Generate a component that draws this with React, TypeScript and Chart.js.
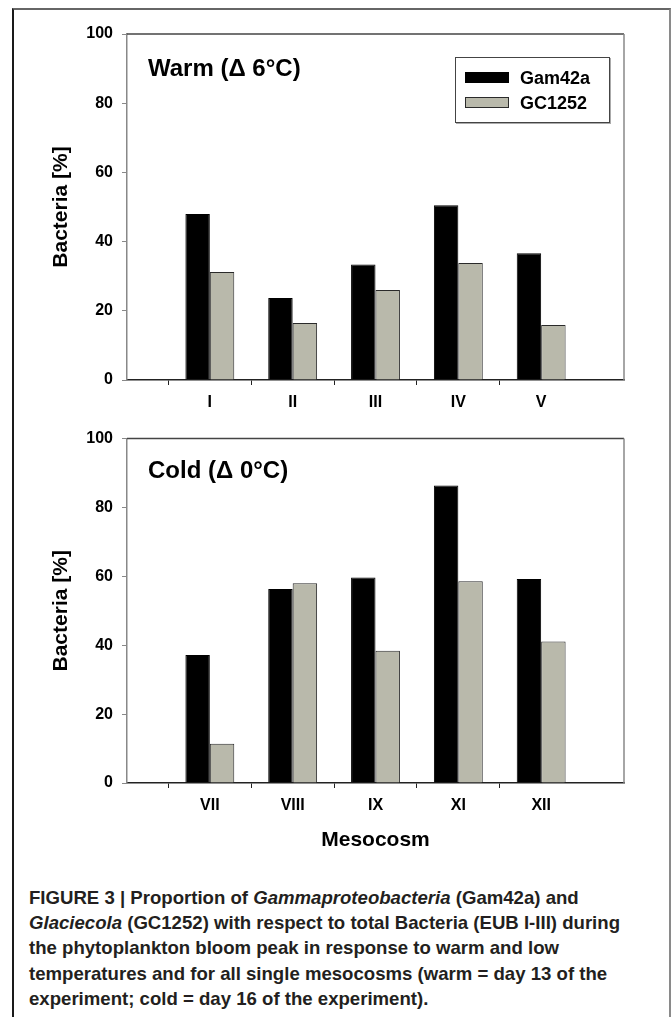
import React, { useEffect, useRef } from "react";
import { Chart, registerables } from "chart.js";

Chart.register(...registerables);

// ---- data ----
const warmLabels = ["I", "II", "III", "IV", "V"];
const warmGam42a = [48.0, 23.7, 33.4, 50.5, 36.6];
const warmGC1252 = [31.2, 16.5, 26.0, 33.8, 15.9];

const coldLabels = ["VII", "VIII", "IX", "XI", "XII"];
const coldGam42a = [37.2, 56.3, 59.7, 86.4, 59.2];
const coldGC1252 = [11.4, 58.0, 38.4, 58.6, 41.1];

const yTickValues = [0, 20, 40, 60, 80, 100];
const seriesNames = ["Gam42a", "GC1252"];
const panelTitles = ["Warm (Δ 6°C)", "Cold (Δ 0°C)"];
const xTitleText = "Mesocosm";
const yTitleText = "Bacteria [%]";

const FONT = "'Liberation Sans', Arial, Helvetica, sans-serif";
const GRAY_BAR = "#b9b9ab";

Chart.defaults.font.family = FONT;

const framePlugin = {
  id: "frameLines",
  afterDraw(chart: any) {
    const { ctx, chartArea } = chart;
    ctx.save();
    ctx.lineWidth = 1.5;
    ctx.strokeStyle = "#444";
    ctx.beginPath();
    ctx.moveTo(chartArea.left, chartArea.top);
    ctx.lineTo(chartArea.right, chartArea.top);
    ctx.stroke();
    ctx.strokeStyle = "#888";
    ctx.beginPath();
    ctx.moveTo(chartArea.right, chartArea.top);
    ctx.lineTo(chartArea.right, chartArea.bottom);
    ctx.stroke();
    ctx.restore();
  },
};

type PanelProps = {
  labels: string[];
  a: number[];
  b: number[];
  top: number;
  height: number;
  plotTop: number;
  xAxisHeight: number;
  showXTitle: boolean;
};

function Panel({ labels, a, b, top, height, plotTop, xAxisHeight, showXTitle }: PanelProps) {
  const ref = useRef<HTMLCanvasElement | null>(null);
  useEffect(() => {
    if (!ref.current) return;
    const cats = ["", ...labels, ""];
    const pad = (arr: number[]) => [null, ...arr, null];
    const last = cats.length - 1;
    const chart = new Chart(ref.current, {
      type: "bar",
      data: {
        labels: cats,
        datasets: [
          {
            label: seriesNames[0],
            data: pad(a) as any,
            backgroundColor: "#000",
            borderColor: "#000",
            borderWidth: 1,
            categoryPercentage: 0.59,
            barPercentage: 1,
          },
          {
            label: seriesNames[1],
            data: pad(b) as any,
            backgroundColor: GRAY_BAR,
            borderColor: "#2a2a2a",
            borderWidth: 1,
            categoryPercentage: 0.59,
            barPercentage: 1,
          },
        ],
      },
      options: {
        animation: false,
        responsive: false,
        maintainAspectRatio: false,
        layout: { padding: { left: 0, right: 48, top: plotTop, bottom: 0 } },
        plugins: {
          legend: { display: false },
          tooltip: { enabled: false },
          title: { display: false },
        },
        scales: {
          x: {
            type: "category",
            offset: false,
            grid: {
              drawOnChartArea: false,
              drawTicks: true,
              tickLength: 5,
              tickColor: (c: any) => (c.index === 0 || c.index === last ? "rgba(0,0,0,0)" : "#222"),
            },
            border: { color: "#222", width: 1.5 },
            ticks: {
              color: "#000",
              font: { size: 16, weight: "bold" },
              padding: 8,
              maxRotation: 0,
              autoSkip: false,
            },
            title: {
              display: showXTitle,
              text: xTitleText,
              color: "#000",
              font: { size: 21, weight: "bold" },
              padding: { top: 0, bottom: 17 },
            },
            afterFit: (s: any) => {
              s.height = xAxisHeight;
            },
          } as any,
          y: {
            min: 0,
            max: 100,
            afterBuildTicks: (s: any) => {
              s.ticks = yTickValues.map((v) => ({ value: v }));
            },
            grid: { drawOnChartArea: false, drawTicks: true, tickLength: 5, tickColor: "#888" },
            border: { color: "#888", width: 1.5 },
            ticks: {
              color: "#000",
              font: { size: 16, weight: "bold" },
              padding: 9,
            },
            title: {
              display: true,
              text: yTitleText,
              color: "#000",
              font: { size: 21, weight: "bold" },
              padding: { top: 49, bottom: 0 },
            },
            afterFit: (s: any) => {
              s.width = 127;
            },
          } as any,
        },
      },
      plugins: [framePlugin],
    });
    return () => chart.destroy();
  }, []);
  return (
    <canvas
      ref={ref}
      width={672}
      height={height}
      style={{ position: "absolute", left: 0, top, width: 672, height }}
    />
  );
}

export default function App() {
  const abs = (o: React.CSSProperties): React.CSSProperties => ({ position: "absolute", ...o });
  return (
    <div
      style={{
        position: "absolute",
        left: 0,
        top: 0,
        width: 672,
        height: 1017,
        overflow: "hidden",
        background: "#fff",
        fontFamily: FONT,
      }}
    >
      <div
        style={abs({
          left: 12,
          top: 8,
          width: 659,
          height: 1030,
          boxSizing: "border-box",
          borderLeft: "2px solid #1a1a1a",
          borderTop: "2px solid #666",
          borderRight: "2px solid #8a8a8a",
        })}
      />
      <Panel
        labels={warmLabels}
        a={warmGam42a}
        b={warmGC1252}
        top={0}
        height={420}
        plotTop={34}
        xAxisHeight={40}
        showXTitle={false}
      />
      <Panel
        labels={coldLabels}
        a={coldGam42a}
        b={coldGC1252}
        top={420}
        height={450}
        plotTop={17}
        xAxisHeight={87}
        showXTitle={true}
      />

      {/* panel labels */}
      <div style={abs({ left: 148, top: 56, fontSize: 24, lineHeight: "24px", fontWeight: "bold", color: "#000", whiteSpace: "nowrap" })}>
        {panelTitles[0]}
      </div>
      <div style={abs({ left: 148, top: 458, fontSize: 24, lineHeight: "24px", fontWeight: "bold", color: "#000", whiteSpace: "nowrap" })}>
        {panelTitles[1]}
      </div>

      {/* legend */}
      <div
        style={abs({
          left: 455,
          top: 57,
          width: 155,
          height: 66,
          boxSizing: "border-box",
          border: "1px solid #444",
          background: "#fff",
          boxShadow: "1px 1px 0 #aaa",
        })}
      />
      <div style={abs({ left: 465, top: 72, width: 44, height: 11, background: "#000" })} />
      <div
        style={abs({
          left: 465,
          top: 97,
          width: 44,
          height: 11,
          boxSizing: "border-box",
          background: GRAY_BAR,
          border: "1px solid #2a2a2a",
        })}
      />
      <div style={abs({ left: 520, top: 69, fontSize: 18, lineHeight: "18px", fontWeight: "bold", color: "#000", whiteSpace: "nowrap" })}>
        {seriesNames[0]}
      </div>
      <div style={abs({ left: 520, top: 94, fontSize: 18, lineHeight: "18px", fontWeight: "bold", color: "#000", whiteSpace: "nowrap" })}>
        {seriesNames[1]}
      </div>

      {/* caption */}
      <div
        style={abs({
          left: 29,
          top: 885,
          fontSize: 18.6,
          lineHeight: "25.2px",
          fontWeight: "bold",
          color: "#231f20",
          whiteSpace: "nowrap",
        })}
      >
        FIGURE 3 | Proportion of <i>Gammaproteobacteria</i> (Gam42a) and
        <br />
        <i>Glaciecola</i> (GC1252) with respect to total Bacteria (EUB I-III) during
        <br />
        the phytoplankton bloom peak in response to warm and low
        <br />
        temperatures and for all single mesocosms (warm = day 13 of the
        <br />
        experiment; cold = day 16 of the experiment).
      </div>
    </div>
  );
}
